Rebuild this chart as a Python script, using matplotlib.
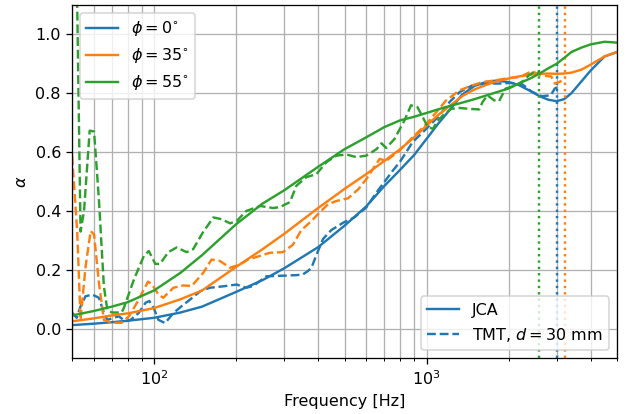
import numpy as np
import matplotlib
matplotlib.use("Agg")
import matplotlib.pyplot as plt
from matplotlib.lines import Line2D

# ── JCA model curves (solid) ───────────────────
f_jca = [50, 60, 70, 80, 100, 125, 150, 200, 250, 300, 400, 500, 600, 700, 800, 900,
         1000, 1100, 1220, 1350, 1500, 1650, 1800, 2000, 2180, 2400, 2600, 2800, 3000,
         3200, 3400, 3700, 4000, 4500, 5000]
jca_0 = [0.012, 0.017, 0.022, 0.027, 0.037, 0.055, 0.075, 0.125, 0.165, 0.205, 0.277,
         0.35, 0.415, 0.485, 0.54, 0.59, 0.645, 0.695, 0.745, 0.795, 0.825, 0.838, 0.843,
         0.838, 0.828, 0.808, 0.79, 0.778, 0.773, 0.78, 0.8, 0.84, 0.877, 0.925, 0.94]
jca_35 = [0.025, 0.035, 0.045, 0.052, 0.07, 0.1, 0.13, 0.21, 0.27, 0.322, 0.41, 0.475,
          0.525, 0.57, 0.61, 0.65, 0.69, 0.725, 0.758, 0.79, 0.813, 0.828, 0.84, 0.85,
          0.857, 0.863, 0.866, 0.867, 0.866, 0.867, 0.87, 0.88, 0.897, 0.925, 0.94]
jca_55 = [0.045, 0.06, 0.075, 0.09, 0.13, 0.19, 0.25, 0.355, 0.425, 0.47, 0.55, 0.61,
          0.65, 0.685, 0.708, 0.72, 0.733, 0.745, 0.757, 0.768, 0.78, 0.792, 0.803, 0.816,
          0.833, 0.85, 0.867, 0.885, 0.9, 0.92, 0.94, 0.955, 0.966, 0.975, 0.972]

# ── TMT measurements (dashed), d = 30 mm ───────
f_tmt_0 = [50, 52, 53.7, 56, 59.3, 62.7, 65.4, 67.3, 70, 74.2, 78.5, 82, 87.9, 93, 96,
           99.7, 103.7, 109.7, 117.7, 126, 135.5, 147.6, 160, 179.5, 200.8, 218, 231, 258,
           297, 333, 351, 367, 378, 394, 417, 447, 494, 543, 601, 655, 702, 752, 800, 889,
           1000, 1116, 1214, 1322, 1474, 1650, 1846, 2050, 2250, 2435, 2650, 2857, 2955, 3020]
tmt_0 = [0.054, 0.037, 0.076, 0.11, 0.116, 0.105, 0.054, 0.03, 0.035, 0.042, 0.025, 0.03,
         0.054, 0.088, 0.094, 0.07, 0.03, 0.019, 0.053, 0.076, 0.099, 0.127, 0.139, 0.144,
         0.15, 0.139, 0.145, 0.178, 0.18, 0.182, 0.184, 0.196, 0.207, 0.25, 0.305, 0.335,
         0.36, 0.378, 0.412, 0.463, 0.5, 0.537, 0.568, 0.634, 0.68, 0.725, 0.77, 0.804,
         0.827, 0.833, 0.833, 0.835, 0.83, 0.805, 0.79, 0.793, 0.816, 0.82]

f_tmt_35 = [50, 52.2, 53.7, 56, 58.5, 60.2, 62.7, 65.4, 70, 76, 80.8, 86.6, 91.7, 95, 98.3,
            103.7, 108, 117.7, 128, 137.4, 151.5, 162.5, 174.5, 190, 206.5, 221, 244, 266,
            297, 323, 347, 378, 405, 435, 467, 515, 562, 601, 636, 673, 710, 795, 900, 1000,
            1180, 1322, 1474, 1605, 1797, 2005, 2200, 2435, 2650, 2870, 2960, 3100, 3230]
tmt_35 = [0.587, 0.33, 0.03, 0.21, 0.332, 0.32, 0.157, 0.03, 0.02, 0.02, 0.042, 0.089,
          0.133, 0.16, 0.15, 0.116, 0.105, 0.139, 0.147, 0.145, 0.19, 0.235, 0.23, 0.207,
          0.218, 0.235, 0.247, 0.258, 0.26, 0.285, 0.335, 0.366, 0.395, 0.423, 0.434, 0.443,
          0.474, 0.508, 0.543, 0.577, 0.57, 0.605, 0.655, 0.696, 0.776, 0.81, 0.827, 0.838,
          0.844, 0.852, 0.855, 0.875, 0.86, 0.857, 0.833, 0.84, 0.85]

f_tmt_55 = [50, 52.2, 53.7, 55.3, 58.0, 60.2, 62.7, 65.4, 67.3, 70, 76, 77.4, 84.3, 91.7,
            95.6, 101, 105, 112.8, 121, 131.7, 139, 151, 165, 177, 190, 201, 218, 245, 273,
            289, 315, 333, 362, 394, 429, 467, 508, 552, 601, 655, 683, 711, 763, 830, 877,
            926, 968, 1010, 1055, 1100, 1166, 1232, 1322, 1435, 1560, 1605, 1673, 1770, 1846,
            1950, 2135, 2280, 2375, 2480, 2595]
tmt_55 = [1.8, 1.1, 0.33, 0.40, 0.673, 0.67, 0.44, 0.144, 0.065, 0.055, 0.055, 0.07, 0.167,
          0.247, 0.264, 0.22, 0.22, 0.26, 0.276, 0.26, 0.27, 0.327, 0.378, 0.372, 0.358,
          0.366, 0.40, 0.417, 0.41, 0.413, 0.43, 0.486, 0.515, 0.525, 0.566, 0.588, 0.592,
          0.583, 0.588, 0.61, 0.63, 0.614, 0.645, 0.708, 0.759, 0.753, 0.719, 0.686, 0.679,
          0.708, 0.73, 0.747, 0.75, 0.747, 0.745, 0.77, 0.793, 0.776, 0.773, 0.816, 0.827,
          0.844, 0.861, 0.873, 0.87]

# upper validity limit of the tube for each angle
f_limit = [3020, 3230, 2595]
angles = [0, 35, 55]
colors = ['C0', 'C1', 'C2']

# drawn at a slightly higher dpi so fonts and lines scale like the original
DPI = 115
fig, ax = plt.subplots(figsize=(627 / DPI, 414 / DPI), dpi=DPI)
fig.subplots_adjust(left=0.115, right=0.984, top=0.988, bottom=0.135)

jca = [jca_0, jca_35, jca_55]
tmt = [(f_tmt_0, tmt_0), (f_tmt_35, tmt_35), (f_tmt_55, tmt_55)]
for phi, c, a_jca, (ft, a_tmt), fl in zip(angles, colors, jca, tmt, f_limit):
    ax.plot(f_jca, a_jca, color=c, ls='-')
    ax.plot(ft, a_tmt, color=c, ls='--')
    ax.axvline(fl, color=c, ls=':')

ax.set_xscale('log')
ax.set_xlim(50, 5000)
ax.set_ylim(-0.1, 1.1)
ax.grid(True, which='both', axis='x')
ax.grid(True, which='major', axis='y')
ax.set_xlabel('Frequency [Hz]')
ax.set_ylabel(r'$\alpha$')

h_phi = [Line2D([], [], color=c) for c in colors]
leg1 = ax.legend(h_phi, [rf'$\phi = {p}^{{\circ}}$' for p in angles], loc='upper left')
ax.add_artist(leg1)
h_style = [Line2D([], [], color='C0', ls='-'), Line2D([], [], color='C0', ls='--')]
ax.legend(h_style, ['JCA', r'TMT, $d = 30$ mm'], loc='lower right')

fig.savefig('out.png', dpi=DPI)
